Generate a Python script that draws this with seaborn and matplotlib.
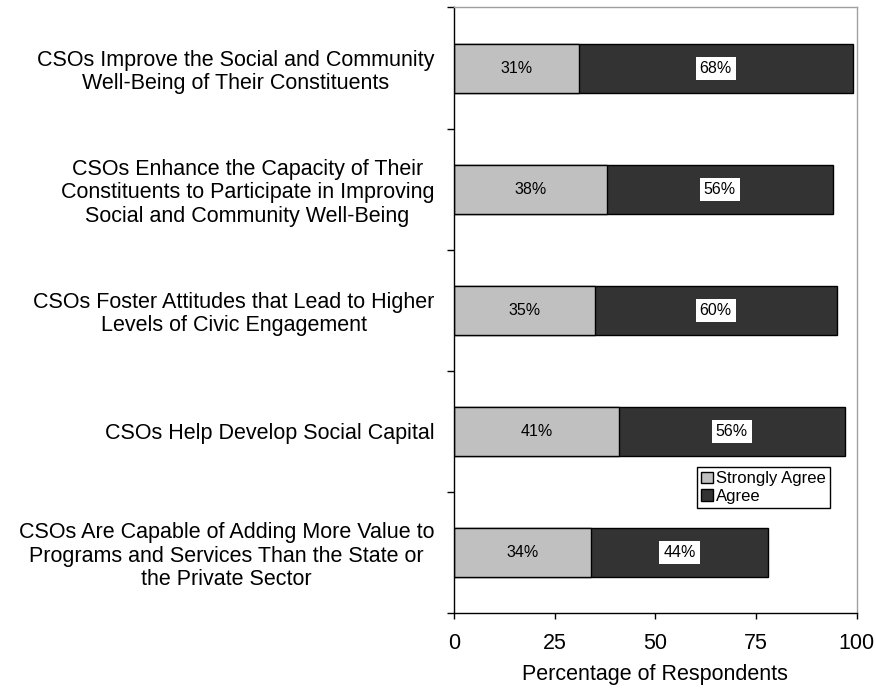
import matplotlib
matplotlib.use("Agg")
import matplotlib.pyplot as plt
from matplotlib.patches import Patch
from matplotlib.ticker import FixedLocator
import seaborn as sns
import pandas as pd

statements = [
    "CSOs Improve the Social and Community\nWell-Being of Their Constituents",
    "CSOs Enhance the Capacity of Their\nConstituents to Participate in Improving\nSocial and Community Well-Being",
    "CSOs Foster Attitudes that Lead to Higher\nLevels of Civic Engagement",
    "CSOs Help Develop Social Capital",
    "CSOs Are Capable of Adding More Value to\nPrograms and Services Than the State or\nthe Private Sector",
]
strongly_agree = [31, 38, 35, 41, 34]
agree = [68, 56, 60, 56, 44]
x_ticks = [0, 25, 50, 75, 100]

LIGHT = "#c0c0c0"
DARK = "#333333"

sns.set_style("white")
plt.rcParams["font.family"] = ["Liberation Sans", "DejaVu Sans"]
plt.rcParams.update({
    "text.color": "black",
    "axes.labelcolor": "black",
    "xtick.color": "black",
    "ytick.color": "black",
})

df = pd.DataFrame({
    "statement": statements,
    "strongly": strongly_agree,
    "agree": agree,
})
df["total"] = df["strongly"] + df["agree"]

fig = plt.figure(figsize=(8.76, 6.88), dpi=100)
ax = fig.add_axes([0.518, 0.1094, 0.460, 0.8797])

bar_w = 0.405
# stacked: full bar (dark) first, strongly-agree segment drawn over it
sns.barplot(data=df, y="statement", x="total", orient="h", color=DARK,
            saturation=1, width=bar_w, edgecolor="black", linewidth=1.0, ax=ax)
sns.barplot(data=df, y="statement", x="strongly", orient="h", color=LIGHT,
            saturation=1, width=bar_w, edgecolor="black", linewidth=1.0, ax=ax)

for i, (s, a) in enumerate(zip(strongly_agree, agree)):
    ax.text(s / 2, i, f"{s}%", ha="center", va="center", fontsize=11.5, color="black")
    ax.text(s + a / 2, i, f"{a}%", ha="center", va="center", fontsize=11.5, color="black",
            bbox=dict(boxstyle="square,pad=0.25", facecolor="white", edgecolor="none"))

ax.set_xlim(0, 100)
ax.set_ylim(len(statements) - 0.5, -0.5)
ax.set_xticks(x_ticks)
ax.set_xticklabels([str(t) for t in x_ticks], fontsize=15.5)
ax.set_xlabel("Percentage of Respondents", fontsize=15.5, labelpad=7)
ax.set_ylabel("")

ax.set_yticks(range(len(statements)))
ax.set_yticklabels(statements, fontsize=15.5, linespacing=1.17, multialignment="center")
ax.yaxis.set_minor_locator(FixedLocator([i - 0.5 for i in range(len(statements) + 1)]))
ax.tick_params(axis="y", which="major", length=0, pad=14)
ax.tick_params(axis="y", which="minor", length=5, width=1, color="black", direction="out", left=True)
ax.tick_params(axis="x", which="major", length=4.5, width=1, color="black", direction="out",
               bottom=True, pad=10)

for side in ("top", "right"):
    ax.spines[side].set_color("#a0a0a0")
    ax.spines[side].set_linewidth(1.0)
for side in ("left", "bottom"):
    ax.spines[side].set_color("black")
    ax.spines[side].set_linewidth(1.0)

handles = [Patch(facecolor=LIGHT, edgecolor="black", linewidth=1.0, label="Strongly Agree"),
           Patch(facecolor=DARK, edgecolor="black", linewidth=1.0, label="Agree")]
leg = ax.legend(handles=handles, loc="lower left", bbox_to_anchor=(0.603, 0.173),
                borderaxespad=0, fontsize=12, frameon=True, fancybox=False,
                framealpha=1, edgecolor="black", handlelength=0.7, handleheight=0.7,
                handletextpad=0.2, labelspacing=0.15, borderpad=0.25)
leg.get_frame().set_linewidth(1.0)

fig.savefig("out.png", dpi=100, facecolor="white")
